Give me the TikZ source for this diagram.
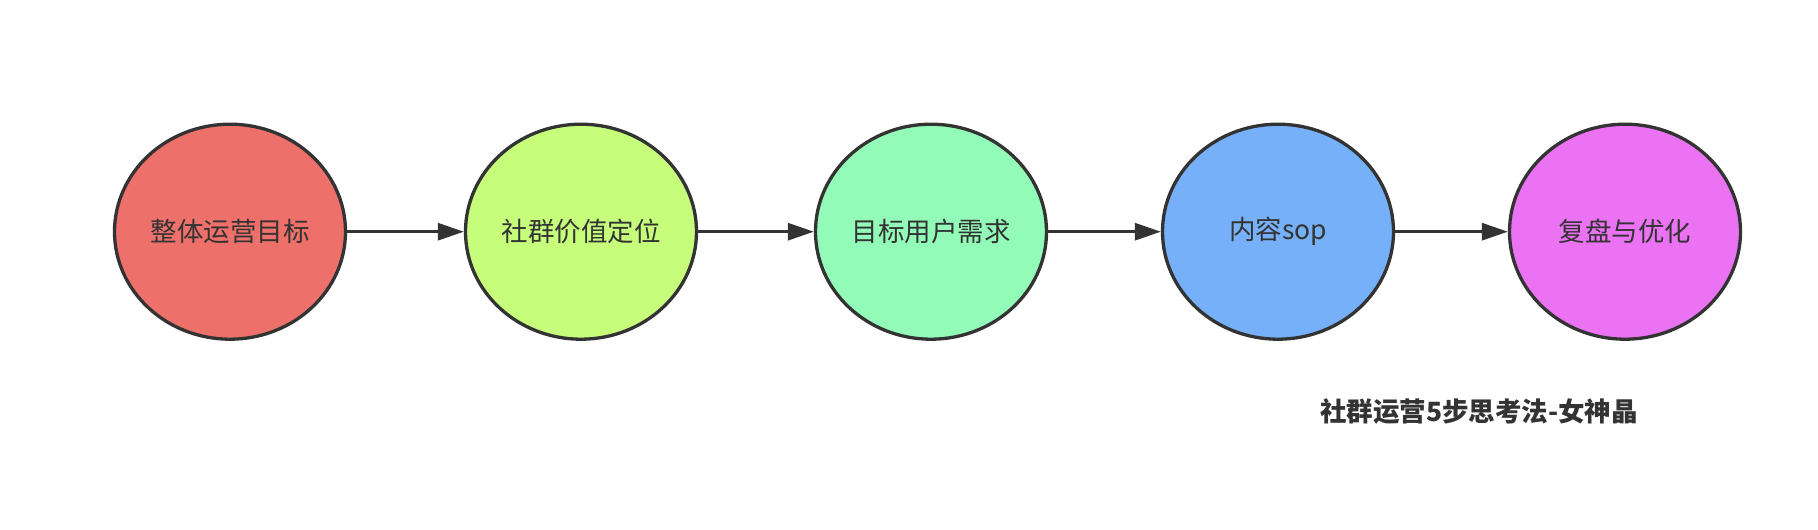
\documentclass[tikz,border=0pt]{standalone}
\usepackage{fontspec}
\setmainfont{Noto Sans CJK SC}
\usetikzlibrary{shapes.geometric,arrows.meta}
\definecolor{ink}{HTML}{333333}
\definecolor{cA}{HTML}{EE706B}
\definecolor{cB}{HTML}{C6FE7B}
\definecolor{cC}{HTML}{93FBB8}
\definecolor{cD}{HTML}{76B0F8}
\definecolor{cE}{HTML}{EC72F4}
\tikzset{
  stage/.style={ellipse, draw=ink, line width=3.3pt, minimum width=231pt, minimum height=215pt, inner sep=0pt, text=ink, font=\fontsize{26.5}{30}\selectfont},
  flow/.style={draw=ink, line width=3pt, -{Triangle[length=26pt,width=17pt]}}
}
\begin{document}
\begin{tikzpicture}[x=1pt,y=-1pt]
\useasboundingbox (0,0) rectangle (1818,530);
\node[stage, fill=cA] (n1) at (230,231.7) {整体运营目标};
\node[stage, fill=cB] (n2) at (581,231.7) {社群价值定位};
\node[stage, fill=cC] (n3) at (931,231.7) {目标用户需求};
\node[stage, fill=cD] (n4) at (1278,231.7) {内容sop};
\node[stage, fill=cE] (n5) at (1625,231.7) {复盘与优化};
\draw[flow] (n1) -- (n2);
\draw[flow] (n2) -- (n3);
\draw[flow] (n3) -- (n4);
\draw[flow] (n4) -- (n5);
\node[text=ink, font=\fontsize{26.5}{30}\selectfont\bfseries] (title) at (1479,411.5) {社群运营5步思考法-女神晶};
\end{tikzpicture}
\end{document}
